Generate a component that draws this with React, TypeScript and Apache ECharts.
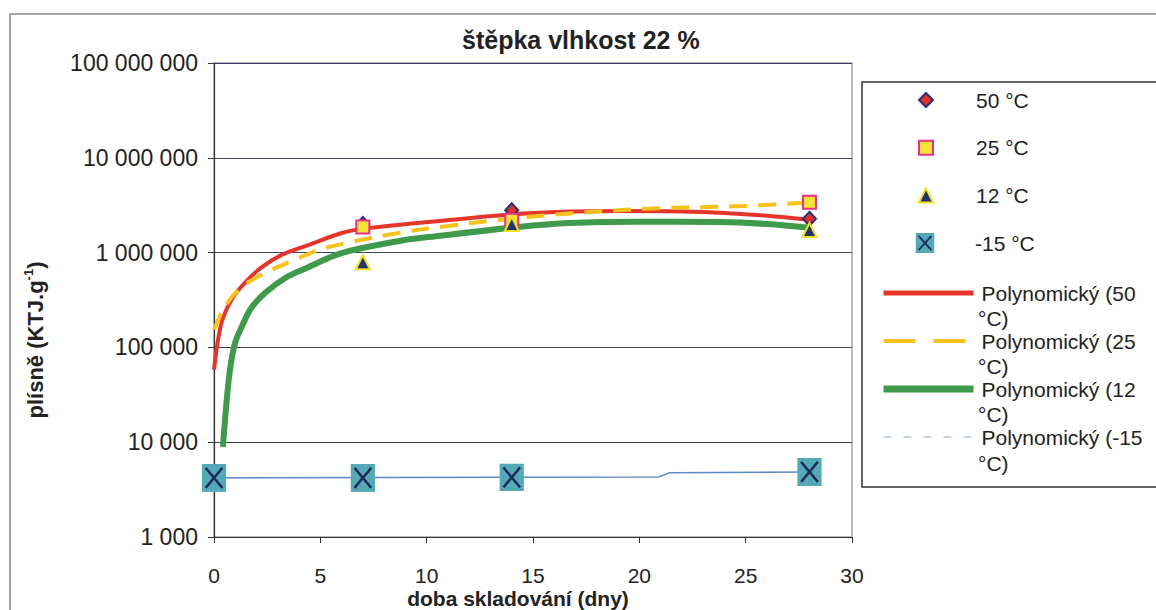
import React, { useEffect, useRef } from "react";
import * as echarts from "echarts";

// ---- data ----
const titleText = "štěpka vlhkost 22 %";
const xName = "doba skladování (dny)";
const xTicks = [0, 5, 10, 15, 20, 25, 30];
const yTicks = [1000, 10000, 100000, 1000000, 10000000, 100000000];

const names = ["50 °C", "25 °C", "12 °C", "-15 °C"];
const trendNames = ["Polynomický (50 °C)", "Polynomický (25 °C)", "Polynomický (12 °C)", "Polynomický (-15 °C)"];

const pts50 = [[7, 2.0e6], [14, 2.8e6], [28, 2.27e6]];
const pts25 = [[7, 1.86e6], [14, 2.2e6], [28, 3.4e6]];
const pts12 = [[7, 7.9e5], [14, 2.0e6], [28, 1.73e6]];
const ptsM15 = [[0, 4200], [7, 4200], [14, 4250], [28, 4850]];

const trend50 = [[0, 5.8e4], [0.19, 1.2e5], [0.42, 2.04e5], [0.9, 3.4e5], [1.45, 4.8e5], [2.2, 6.9e5], [3.16, 9.4e5], [4.43, 1.2e6], [6.0, 1.61e6], [7, 1.78e6], [10.1, 2.1e6], [14.8, 2.6e6], [19.1, 2.75e6], [22, 2.72e6], [24, 2.62e6], [26, 2.45e6], [28, 2.22e6]];
const trend25 = [[0, 1.53e5], [0.5, 2.67e5], [1.28, 4.3e5], [2.4, 6.1e5], [3.8, 8.4e5], [4.9, 1.06e6], [6.2, 1.26e6], [8.8, 1.63e6], [11, 1.91e6], [13.4, 2.21e6], [15.75, 2.49e6], [20.3, 2.9e6], [24.9, 3.1e6], [28, 3.38e6]];
const trend12 = [[0.42, 8.9e3], [0.57, 2.35e4], [0.75, 5.8e4], [0.99, 1.11e5], [1.3, 1.64e5], [1.75, 2.6e5], [2.4, 3.75e5], [3.35, 5.4e5], [4.43, 7.0e5], [6.0, 9.9e5], [8.9, 1.35e6], [10.1, 1.46e6], [14.3, 1.86e6], [16.7, 2.05e6], [20, 2.12e6], [23.8, 2.1e6], [26, 2.0e6], [28, 1.83e6]];
const trendM15 = [[0, 4200], [20.9, 4300], [21.4, 4750], [28, 4850]];

const FONT = "Arial, 'Liberation Sans', sans-serif";

const xSymbolSvg =
  "<svg xmlns='http://www.w3.org/2000/svg' viewBox='0 0 26 28'><rect width='26' height='28' fill='#54a9b7'/><path d='M4 4L22 24M22 4L4 24' stroke='#1d2a5c' stroke-width='2.6' fill='none'/></svg>";
const xSymbol = "image://data:image/svg+xml;charset=utf-8," + encodeURIComponent(xSymbolSvg);

function fmt(v: number) {
  return String(Math.round(v)).replace(/\B(?=(\d{3})+(?!\d))/g, " ");
}

const hiddenDot = { color: "rgba(0,0,0,0)", borderColor: "rgba(0,0,0,0)", borderWidth: 0, opacity: 0 };

export default function App() {
  const ref = useRef<HTMLDivElement>(null);
  useEffect(() => {
    if (!ref.current) return;
    const chart = echarts.init(ref.current, null, { renderer: "svg" });
    const legendText = { fontFamily: FONT, fontSize: 21, lineHeight: 24, color: "#222" };
    const option: any = {
      animation: false,
      backgroundColor: "#ffffff",
      title: {
        text: titleText,
        left: 462,
        top: 27,
        padding: 0,
        textStyle: { fontFamily: FONT, fontWeight: "bold", fontSize: 25, color: "#222" },
      },
      grid: {
        left: 214, top: 63, width: 638, height: 474,
        outerBoundsMode: "none", containLabel: false,
        show: true, borderColor: "#777", borderWidth: 1, backgroundColor: "transparent",
      },
      xAxis: {
        type: "value",
        min: xTicks[0],
        max: xTicks[xTicks.length - 1],
        interval: 5,
        name: xName,
        nameLocation: "middle",
        nameGap: 51,
        nameMoveOverlap: false,
        nameTextStyle: { fontFamily: FONT, fontWeight: "bold", fontSize: 21, lineHeight: 21, color: "#222", padding: [0, 30, 0, 0] },
        axisLine: { show: true, lineStyle: { color: "#333", width: 1.2 } },
        axisTick: { show: true, inside: false, length: 6, lineStyle: { color: "#333" } },
        axisLabel: { fontFamily: FONT, fontSize: 21, lineHeight: 21, color: "#222", margin: 28 },
        splitLine: { show: false },
      },
      yAxis: {
        type: "log",
        logBase: 10,
        min: yTicks[0],
        max: yTicks[yTicks.length - 1],
        splitNumber: 5,
        name: "{a|plísně (KTJ.g}{sup|-1}{a|)}",
        nameLocation: "middle",
        nameGap: 166,
        nameMoveOverlap: false,
        nameRotate: 90,
        nameTextStyle: {
          fontFamily: FONT,
          fontWeight: "bold",
          fontSize: 22,
          color: "#222",
          padding: [0, 80, 0, 0],
          rich: {
            a: { fontFamily: FONT, fontWeight: "bold", fontSize: 22, lineHeight: 26, color: "#222" },
            sup: { fontFamily: FONT, fontWeight: "bold", fontSize: 13, lineHeight: 26, verticalAlign: "top", color: "#222" },
          },
        },
        axisLine: { show: true, lineStyle: { color: "#333", width: 1.2 } },
        axisTick: { show: true, inside: false, length: 6, lineStyle: { color: "#333" } },
        axisLabel: { fontFamily: FONT, fontSize: 23, color: "#222", margin: 16, formatter: (v: number) => fmt(v) },
        splitLine: { show: true, lineStyle: { color: "#3c4068", width: 1 } },
      },
      legend: [
        {
          orient: "vertical",
          left: 918,
          top: 88,
          padding: 0,
          itemWidth: 14,
          itemHeight: 14,
          itemGap: 23.7,
          selectedMode: false,
          textStyle: { ...legendText, padding: [0, 0, 0, 38] },
          data: [
            { name: names[0], itemStyle: { color: "#e0302a", borderColor: "#27307a", borderWidth: 2 } },
            { name: names[1], itemStyle: { color: "#f8e23a", borderColor: "#e0338a", borderWidth: 2 } },
            { name: names[2], itemStyle: { color: "#1e3570", borderColor: "#f0e020", borderWidth: 2 } },
          ],
        },
        {
          orient: "vertical",
          left: 915,
          top: 231,
          padding: 0,
          itemWidth: 20,
          itemHeight: 20,
          selectedMode: false,
          textStyle: { ...legendText, padding: [0, 0, 0, 35] },
          data: [{ name: names[3] }],
        },
        {
          orient: "vertical",
          left: 880,
          top: 281,
          padding: 0,
          itemWidth: 90,
          itemHeight: 14,
          itemGap: 24,
          selectedMode: false,
          formatter: (n: string) => n.replace(" °C)", ""),
          textStyle: { ...legendText, padding: [0, 0, 0, 3] },
          data: [
            { name: trendNames[0], itemStyle: hiddenDot, lineStyle: { color: "#e5352b", width: 5, type: "solid" } },
            { name: trendNames[1], itemStyle: hiddenDot, lineStyle: { color: "#f7c21b", width: 4, type: [32, 18] } },
            { name: trendNames[2], itemStyle: hiddenDot, lineStyle: { color: "#3f9b4b", width: 7, type: "solid" } },
            { name: trendNames[3], itemStyle: hiddenDot, lineStyle: { color: "#8aa6c8", width: 1, type: [8, 12] } },
          ],
        },
      ],
      graphic: [
        { type: "rect", silent: true, shape: { x: 10, y: 14, width: 1300, height: 800 }, style: { fill: "none", stroke: "#888", lineWidth: 1.5 } },
        { type: "rect", silent: true, shape: { x: 862, y: 82, width: 320, height: 405 }, style: { fill: "none", stroke: "#333", lineWidth: 1.5 } },
        ...[318, 366, 414, 463].map((y) => ({
          type: "text",
          silent: true,
          x: 978,
          y,
          style: { text: "°C)", fontFamily: FONT, fontSize: 21, fill: "#222", verticalAlign: "middle", align: "left" },
        })),
      ],
      series: [
        { name: trendNames[0], type: "line", data: trend50, smooth: 0.35, symbol: "none", lineStyle: { color: "#e5352b", width: 4 }, itemStyle: { color: "#e5352b" }, z: 2 },
        { name: trendNames[1], type: "line", data: trend25, smooth: 0.35, symbol: "none", lineStyle: { color: "#f7c21b", width: 4, type: [18, 11] }, itemStyle: { color: "#f7c21b" }, z: 2 },
        { name: trendNames[2], type: "line", data: trend12, smooth: 0.35, symbol: "none", lineStyle: { color: "#3f9b4b", width: 6 }, itemStyle: { color: "#3f9b4b" }, z: 2 },
        { name: trendNames[3], type: "line", data: trendM15, symbol: "none", lineStyle: { color: "#5a88c8", width: 1.5 }, itemStyle: { color: "#5a88c8" }, z: 2 },
        { name: names[0], type: "scatter", data: pts50, symbol: "diamond", symbolSize: [13, 14], itemStyle: { color: "#e0302a", borderColor: "#27307a", borderWidth: 2, opacity: 1 }, z: 3 },
        { name: names[1], type: "scatter", data: pts25, symbol: "rect", symbolSize: 13, itemStyle: { color: "#f8e23a", borderColor: "#e0338a", borderWidth: 2, opacity: 1 }, z: 3 },
        { name: names[2], type: "scatter", data: pts12, symbol: "triangle", symbolSize: 14, itemStyle: { color: "#1e3570", borderColor: "#f0e020", borderWidth: 2, opacity: 1 }, z: 3 },
        { name: names[3], type: "scatter", data: ptsM15, symbol: xSymbol, symbolSize: [26, 28], itemStyle: { color: "#54a9b7", opacity: 1 }, z: 4 },
      ],
    };
    chart.setOption(option);
    return () => chart.dispose();
  }, []);
  return <div ref={ref} style={{ position: "fixed", left: 0, top: 0, width: 1156, height: 610, background: "#fff" }} />;
}
